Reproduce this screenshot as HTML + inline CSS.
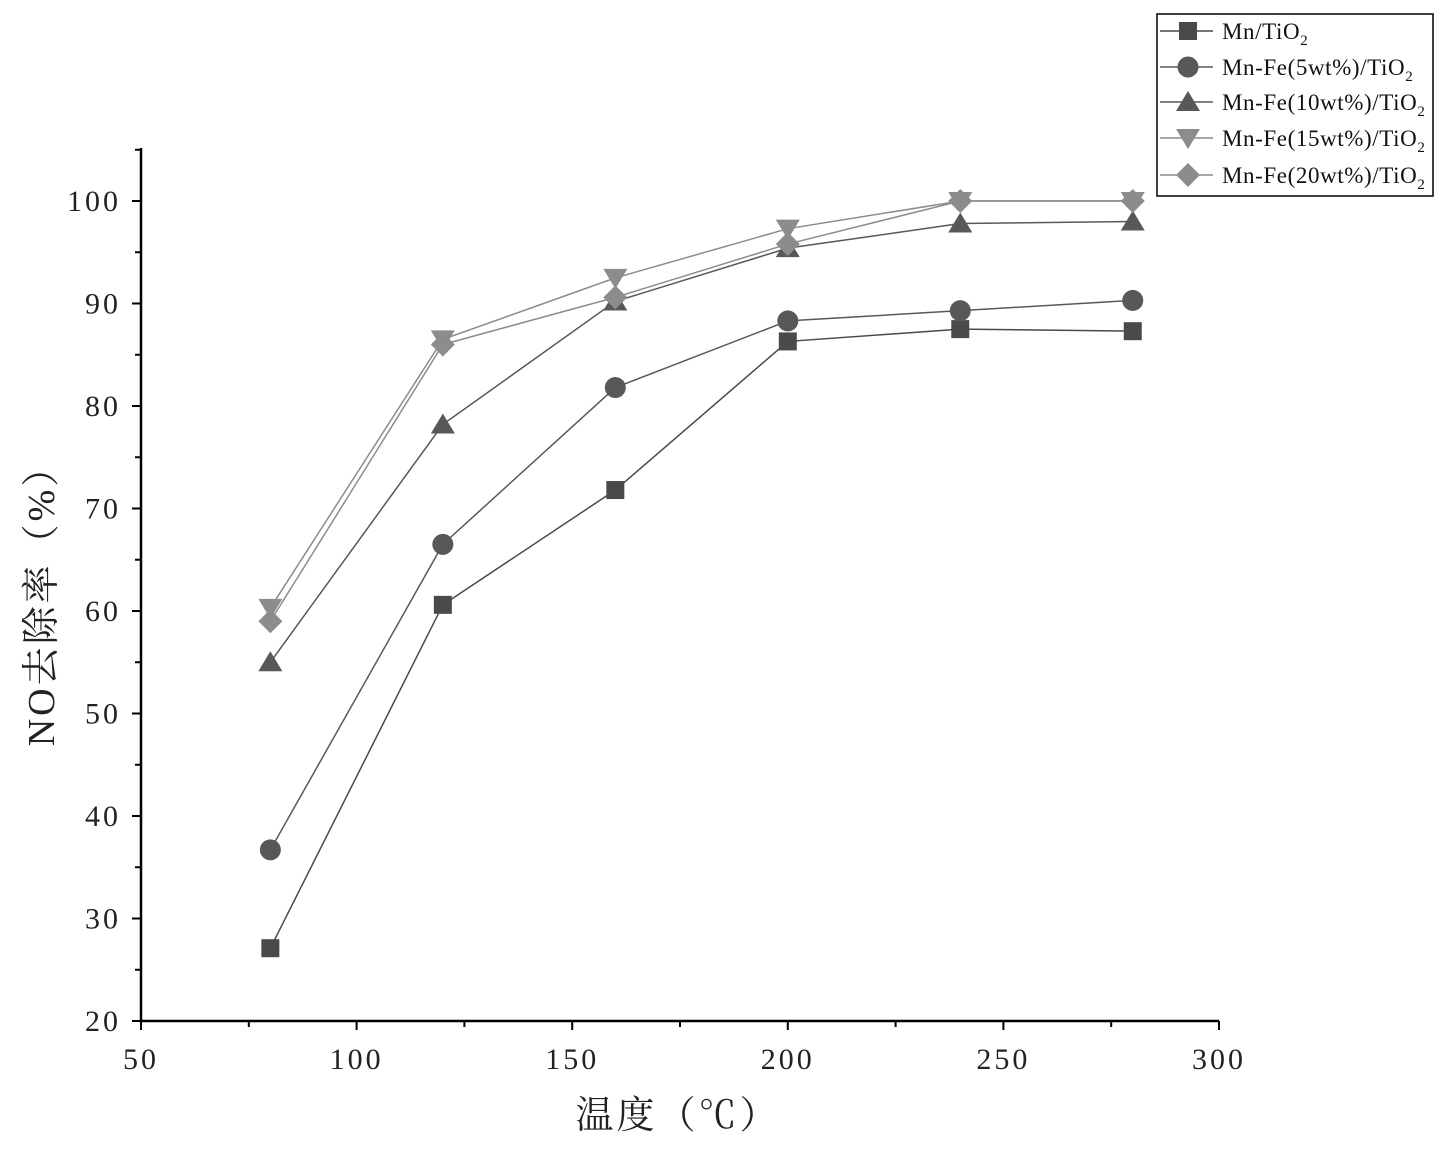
<!DOCTYPE html>
<html><head><meta charset="utf-8"><style>
html,body{margin:0;padding:0;background:#fff;}
svg{display:block;font-family:"Liberation Serif","Noto Serif CJK SC",serif;}
</style></head><body>
<svg id="chart" width="1447" height="1151" viewBox="0 0 1447 1151"></svg>
<script>
const temps=[80,120,160,200,240,280];
const sMn=[27.1,60.6,71.8,86.3,87.5,87.3];
const sFe5=[36.7,66.5,81.8,88.3,89.3,90.3];
const sFe10=[55.0,78.2,90.2,95.4,97.8,98.0];
const sFe15=[60.3,86.5,92.5,97.3,100,100];
const sFe20=[59.0,86.0,90.6,95.8,100,100];
const seriesNames=["Mn/TiO","Mn-Fe(5wt%)/TiO","Mn-Fe(10wt%)/TiO","Mn-Fe(15wt%)/TiO","Mn-Fe(20wt%)/TiO"];
const xTicks=[50,100,150,200,250,300];
const yTicks=[20,30,40,50,60,70,80,90,100];

const NS="http://www.w3.org/2000/svg";
const svg=document.getElementById('chart');
const X0=141,X1=1219,Y0=1021,Y1=201;
const xs=v=>X0+(v-50)/250*(X1-X0);
const ys=v=>Y0-(v-20)/80*(Y0-Y1);
function mk(tag,attrs,parent){const e=document.createElementNS(NS,tag);for(const k in attrs)e.setAttribute(k,attrs[k]);(parent||svg).appendChild(e);return e;}

let ax=mk('path',{d:`M${X0},148 L${X0},${Y0} L${X1},${Y0}`,stroke:'#000','stroke-width':2.5,fill:'none'});


xTicks.forEach((t,i)=>{
  const x=xs(t);
  let l=mk('line',{x1:x,y1:Y0,x2:x,y2:Y0+9,stroke:'#000','stroke-width':2});
  
  
  if(i<xTicks.length-1){const xm=xs(t+25);let m=mk('line',{x1:xm,y1:Y0,x2:xm,y2:Y0+6,stroke:'#000','stroke-width':2});
  
  }
  let tx=mk('text',{x:x,y:Y0+48,'text-anchor':'middle','font-size':30,'letter-spacing':3,fill:'#222'});tx.textContent=t;
  
  
});
yTicks.forEach((t)=>{
  const y=ys(t);
  let l=mk('line',{x1:X0-9,y1:y,x2:X0,y2:y,stroke:'#000','stroke-width':2});
  
  
  const ym=ys(t+5);let m=mk('line',{x1:X0-6,y1:ym,x2:X0,y2:ym,stroke:'#000','stroke-width':2});
  
  
  let tx=mk('text',{x:X0-20,y:y+10,'text-anchor':'end','font-size':30,'letter-spacing':3,fill:'#222'});tx.textContent=t;
  
  
});
let xt=mk('text',{x:678,y:1128,'text-anchor':'middle','font-size':38,'letter-spacing':3,fill:'#222'});xt.textContent='温度（℃）';


let yt=mk('text',{x:0,y:0,'text-anchor':'middle','font-size':38,'letter-spacing':3,fill:'#222',transform:'translate(54,596) rotate(-90)'});yt.textContent='NO去除率（%）';



const data=[sMn,sFe5,sFe10,sFe15,sFe20];
const colors=['#4a4a4a','#585858','#585858','#8c8c8c','#8c8c8c'];
const shapes=['square','circle','tri','itri','diamond'];
function marker(shape,x,y,c,r){
  if(shape==='square')return mk('rect',{x:x-r,y:y-r,width:2*r,height:2*r,fill:c});
  if(shape==='circle')return mk('circle',{cx:x,cy:y,r:r+1.5,fill:c});
  if(shape==='tri')return mk('polygon',{points:`${x},${y-r-2} ${x-r-3},${y+r} ${x+r+3},${y+r}`,fill:c});
  if(shape==='itri')return mk('polygon',{points:`${x},${y+r+2} ${x-r-3},${y-r} ${x+r+3},${y-r}`,fill:c});
  return mk('polygon',{points:`${x},${y-r-3} ${x+r+3},${y} ${x},${y+r+3} ${x-r-3},${y}`,fill:c});
}
data.forEach((s,i)=>{
  const d=s.map((v,j)=>(j?'L':'M')+xs(temps[j])+','+ys(v)).join(' ');
  let p=mk('path',{d:d,stroke:colors[i],'stroke-width':1.5,fill:'none'});
  
  
});
data.forEach((s,i)=>{
  s.forEach((v,j)=>{
    let m=marker(shapes[i],xs(temps[j]),ys(v),colors[i],9);
    
    
  });
});
let lb=mk('rect',{x:1157,y:14,width:276,height:182,fill:'#fff',stroke:'#000','stroke-width':1.5});


const rowsY=[31,67,102,138,175];
seriesNames.forEach((n,i)=>{
  const y=rowsY[i];
  let l=mk('line',{x1:1160,y1:y,x2:1213,y2:y,stroke:colors[i],'stroke-width':1.5});
  
  
  let m=marker(shapes[i],1188,y,colors[i],9);
  
  
  let t=mk('text',{x:1222,y:y+8,'font-size':23,'letter-spacing':0.6,fill:'#111'});
  t.textContent=n;
  let sub=mk('tspan',{dy:6,'font-size':15},t);sub.textContent='2';
  
  
});
</script>
</body></html>
